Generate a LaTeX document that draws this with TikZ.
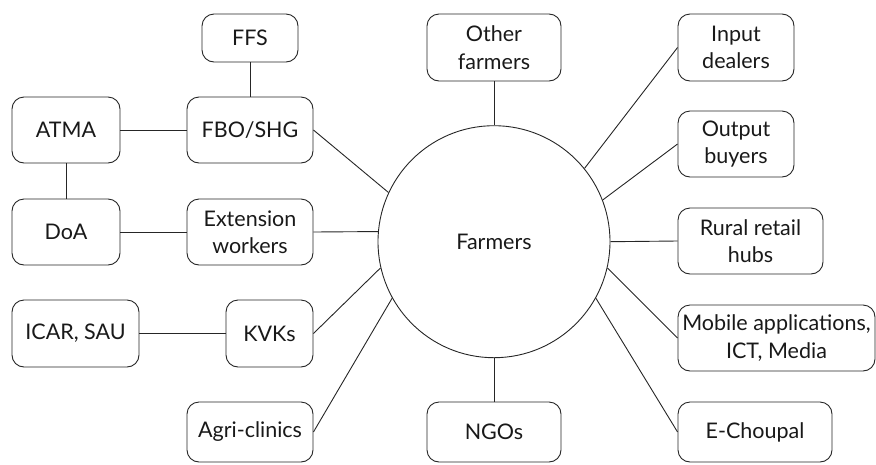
\documentclass[tikz,border=0pt]{standalone}
\usepackage{fontspec}
\setmainfont{Lato}
\begin{document}
\begin{tikzpicture}[x=1pt,y=-1pt,
  ink/.style={draw=black!85, line width=0.9pt},
  box/.style={ink, rectangle, rounded corners=12pt, inner sep=0pt, align=center,
    text=black!90, font=\fontsize{21.5}{27.5}\selectfont},
  hub/.style={ink, circle, minimum size=232pt, inner sep=0pt,
    text=black!90, font=\fontsize{21.5}{27.5}\selectfont},
  link/.style={ink}]
\useasboundingbox (0,0) rectangle (876,464);

% central node
\node[hub] (F) at (494,241.7) {Farmers};

% left cluster
\node[box, minimum width=96pt,  minimum height=48pt] (FFS)  at (250,38)    {FFS};
\node[box, minimum width=108pt, minimum height=66pt] (ATMA) at (66,130)    {ATMA};
\node[box, minimum width=126pt, minimum height=66pt] (FBO)  at (250,130)   {FBO/SHG};
\node[box, minimum width=108pt, minimum height=66pt] (DoA)  at (66,232)    {DoA};
\node[box, minimum width=126pt, minimum height=66pt] (Ext)  at (250,232)   {Extension\\workers};
\node[box, minimum width=127pt, minimum height=67pt] (ICAR) at (75.5,333.5) {ICAR, SAU};
\node[box, minimum width=87pt,  minimum height=67pt] (KVK)  at (269.5,333.5) {KVKs};
\node[box, minimum width=126pt, minimum height=60pt] (Agri) at (250,432)   {Agri-clinics};

% top and bottom
\node[box, minimum width=134pt, minimum height=67pt] (Oth)  at (494,47.5)  {Other\\farmers};
\node[box, minimum width=134pt, minimum height=60pt] (NGO)  at (494,432)   {NGOs};

% right column
\node[box, minimum width=116pt, minimum height=67pt] (Inp)  at (736,47.5)  {Input\\dealers};
\node[box, minimum width=116pt, minimum height=66pt] (Out)  at (736,144)   {Output\\buyers};
\node[box, minimum width=145pt, minimum height=66pt] (Rur)  at (750.5,241) {Rural retail\\hubs};
\node[box, minimum width=197pt, minimum height=66pt] (Mob)  at (776.5,338) {Mobile applications,\\ICT, Media};
\node[box, minimum width=154pt, minimum height=60pt] (ECh)  at (755,432)   {E-Choupal};

% connectors between the boxes
\draw[link] (FFS.south) -- (FBO.north);
\draw[link] (ATMA.east) -- (FBO.west);
\draw[link] (ATMA.south) -- (DoA.north);
\draw[link] (DoA.east) -- (Ext.west);
\draw[link] (ICAR.east) -- (KVK.west);

% connectors to the farmers
\draw[link] (FBO.east) -- (F.155);
\draw[link] (Ext.east) -- (F.175);
\draw[link] (KVK.east) -- (F.193);
\draw[link] (Agri.east) -- (F.209);
\draw[link] (Oth.south) -- (F.north);
\draw[link] (NGO.north) -- (F.south);
\draw[link] (Inp.west) -- (F.39);
\draw[link] (Out.west) -- (F.21);
\draw[link] (Rur.west) -- (F.east);
\draw[link] (Mob.west) -- (F.-13);
\draw[link] (ECh.west) -- (F.-29);
\end{tikzpicture}
\end{document}
